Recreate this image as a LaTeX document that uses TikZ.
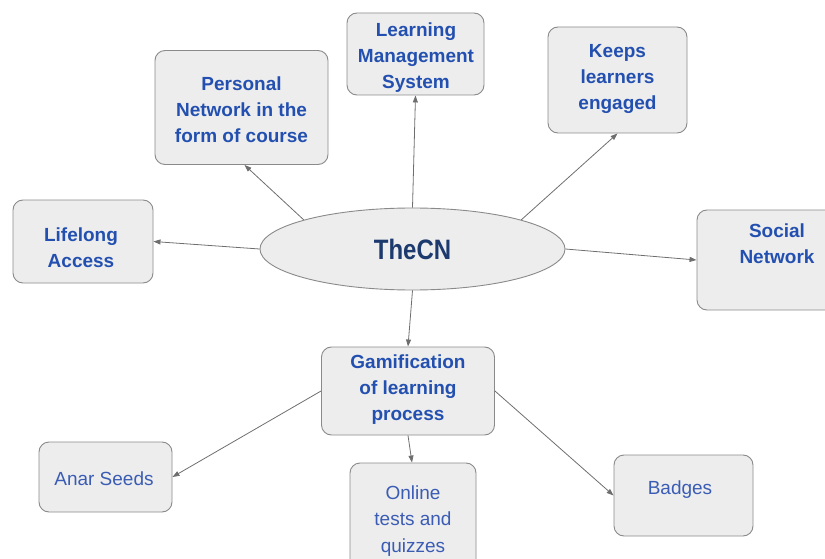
\documentclass[tikz,border=0pt]{standalone}
\usepackage{fontspec}
\setmainfont{Liberation Sans}
\usetikzlibrary{arrows.meta,shapes.geometric}

\definecolor{boxfill}{HTML}{EDEDED}
\definecolor{boxline}{HTML}{8A8A8A}
\definecolor{linkgray}{HTML}{6E6E6E}
\definecolor{hubtext}{HTML}{1C3A6E}
\definecolor{boldblue}{HTML}{2350B0}
\definecolor{plainblue}{HTML}{3A5CB4}

\tikzset{
  card/.style={draw=boxline, line width=0.9pt, fill=boxfill, rounded corners=10pt,
               inner sep=0pt},
  boldtext/.style={text=boldblue, font=\bfseries\fontsize{19}{26}\selectfont, align=center},
  plaintext/.style={text=plainblue, font=\fontsize{19}{26.5}\selectfont, align=center},
  hub/.style={ellipse, draw=boxline, line width=0.9pt, fill=boxfill, inner sep=0pt,
              minimum width=305pt, minimum height=82pt, text=hubtext,
              font=\bfseries\fontsize{24}{28}\selectfont},
  link/.style={draw=linkgray, line width=0.8pt,
               -{Triangle[length=7pt,width=5pt]}},
}

\begin{document}
\begin{tikzpicture}[x=1pt,y=-1pt]
\useasboundingbox (0,0) rectangle (825,559);
\clip (0,0) rectangle (825,559);

% central hub
\node[hub] (c) at (412.5,249) {\scalebox{1}[1.17]{TheCN}};

% upper ring of boxes
\node[card, minimum width=173pt, minimum height=114pt] (pers) at (241.5,107.5) {};
\node[boldtext] (perstxt) at (241.5,110) {Personal\\Network in the\\form of course};
\node[card, minimum width=137pt, minimum height=82pt] (lms) at (415.5,54) {};
\node[boldtext] (lmstxt) at (416,57.5) {Learning\\Management\\System};
\node[card, minimum width=139pt, minimum height=106pt] (keeps) at (617.5,80) {};
\node[boldtext] (keepstxt) at (617.5,78.5) {Keeps\\learners\\engaged};
\node[card, minimum width=140pt, minimum height=83pt] (life) at (83,241.5) {};
\node[boldtext] (lifetxt) at (81,248) {Lifelong\\Access};
\node[card, minimum width=160pt, minimum height=100pt] (social) at (777,260) {};
\node[boldtext] (socialtxt) at (777,243.5) {Social\\Network};

% gamification branch
\node[card, minimum width=173pt, minimum height=88pt] (gam) at (408,391) {};
\node[boldtext] (gamtxt) at (408,389.5) {Gamification\\of learning\\process};
\node[card, minimum width=133pt, minimum height=70pt] (anar) at (105.5,477) {};
\node[plaintext] (anartxt) at (104,479) {Anar Seeds};
\node[card, minimum width=126pt, minimum height=116pt] (online) at (413,521) {};
\node[plaintext] (onlinetxt) at (413,521) {Online\\tests and\\quizzes};
\node[card, minimum width=139pt, minimum height=81pt] (badges) at (683.5,495.5) {};
\node[plaintext] (badgestxt) at (680,490) {Badges};

% connectors from the hub
\draw[link] (c.165) -- ([xshift=3pt]pers.south);
\draw[link] (c.north) -- (lms.south);
\draw[link] (c.15) -- (keeps.south);
\draw[link] (c.west) -- (life.east);
\draw[link] (c.east) -- (social.west);
\draw[link] (c.south) -- (gam.north);

% connectors from the gamification box
\draw[link] (gam.west) -- (anar.east);
\draw[link] (gam.south) -- ([xshift=-1pt]online.north);
\draw[link] (gam.east) -- (badges.west);
\end{tikzpicture}
\end{document}
